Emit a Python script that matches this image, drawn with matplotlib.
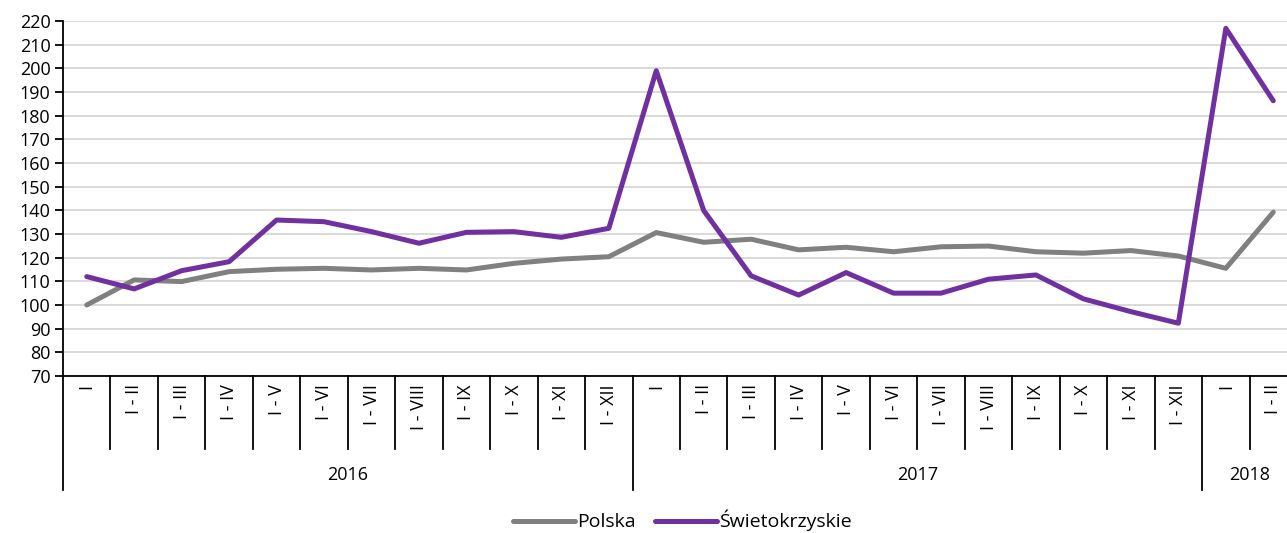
#!/usr/bin/env python3

from matplotlib import pyplot as plt
from matplotlib.transforms import blended_transform_factory
import numpy as np

months = ['I', 'I - II', 'I - III', 'I - IV', 'I - V', 'I - VI', 'I - VII',
          'I - VIII', 'I - IX', 'I - X', 'I - XI', 'I - XII']
categories = months + months + months[:2]
years = ['2016', '2017', '2018']
year_sizes = [12, 12, 2]

polska = [100.0, 110.6, 109.9, 114.1, 115.1, 115.5, 114.8, 115.5, 114.8, 117.6, 119.4, 120.4,
          130.6, 126.5, 127.8, 123.3, 124.4, 122.5, 124.6, 124.9, 122.5, 121.9, 123.0, 120.7,
          115.5, 139.2]
swietokrzyskie = [112.0, 106.8, 114.5, 118.3, 135.9, 135.2, 131.0, 126.1, 130.7, 131.0, 128.6, 132.4,
                  199.0, 139.9, 112.3, 104.2, 113.7, 105.0, 105.0, 110.9, 112.7, 102.6, 97.2, 92.3,
                  216.9, 186.3]

plt.rcParams['font.family'] = ['Open Sans', 'DejaVu Sans']

W, H = 1287, 533
fig = plt.figure(figsize=(W / 100, H / 100), dpi=100)
ax = fig.add_axes([63 / W, (H - 376) / H, (1297 - 63) / W, 355 / H])

x = np.arange(len(categories))
ax.plot(x, polska, color='#808080', lw=3.6, label='Polska', solid_capstyle='round')
ax.plot(x, swietokrzyskie, color='#7030A0', lw=3.6, label='Świetokrzyskie', solid_capstyle='round')

ax.set_xlim(-0.5, len(categories) - 0.5)
ax.set_ylim(70, 220)
ax.set_yticks(range(70, 221, 10))
ax.yaxis.grid(True, color='#d9d9d9', lw=1.4)
ax.set_axisbelow(True)
for s in ['top', 'right']:
    ax.spines[s].set_visible(False)
ax.spines['left'].set_linewidth(1.3)
ax.spines['bottom'].set_linewidth(1.3)
ax.tick_params(axis='y', length=6, width=1.3, labelsize=13, pad=3)

ax.set_xticks(x)
ax.set_xticklabels(categories, rotation=90, fontsize=13, va='top')
ax.tick_params(axis='x', length=0, pad=6)

# separators between categories and years
trans = blended_transform_factory(ax.transData, ax.transAxes)
ends = np.cumsum(year_sizes)
starts = ends - np.array(year_sizes)
for i in range(1, len(categories)):
    low = -0.321 if i in ends else -0.206
    ax.plot([i - 0.5, i - 0.5], [0, low], transform=trans, color='black', lw=1.3, clip_on=False)
ax.plot([-0.5, -0.5], [0, -0.321], transform=trans, color='black', lw=1.3, clip_on=False)
for yr, s, e in zip(years, starts, ends):
    ax.text((s + e - 1) / 2, -0.28, yr, transform=trans, ha='center', va='center', fontsize=13)

fig.legend(loc='lower center', ncol=2, frameon=False, fontsize=14, bbox_to_anchor=(0.53, -0.03),
           handlelength=3.2, handletextpad=0.1, columnspacing=1.0)

fig.savefig('out.png', dpi=100)
